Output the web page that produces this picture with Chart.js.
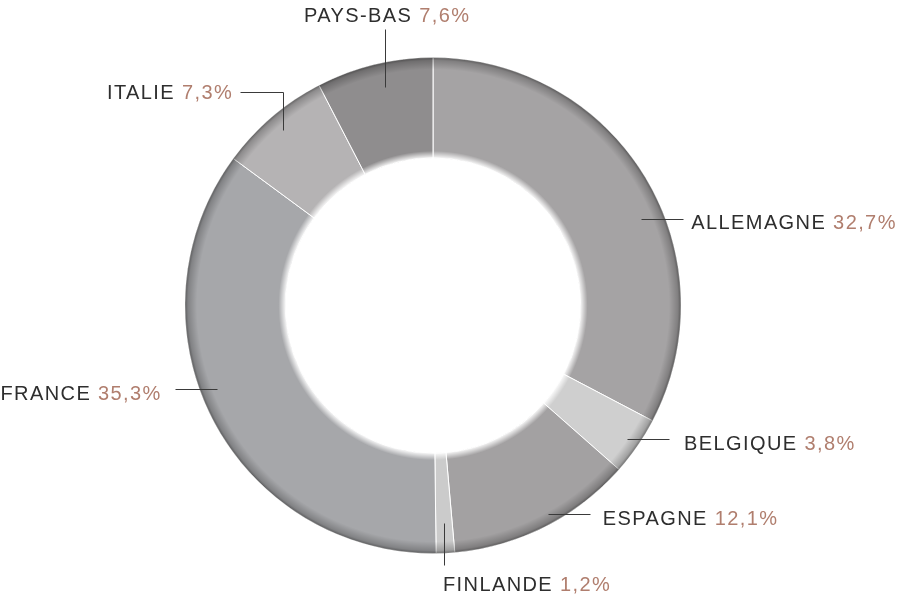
<!DOCTYPE html>
<html>
<head>
<meta charset="utf-8">
<script src="https://cdn.jsdelivr.net/npm/chart.js@4/dist/chart.umd.min.js"></script>
<style>
  html, body { margin: 0; padding: 0; background: #fff; }
  #wrap { width: 897px; height: 598px; }
</style>
</head>
<body>
<div id="wrap"><canvas id="donut"></canvas></div>
<script>
const countries = ['ALLEMAGNE', 'BELGIQUE', 'ESPAGNE', 'FINLANDE', 'FRANCE', 'ITALIE', 'PAYS-BAS'];
const shares = [32.7, 3.8, 12.1, 1.2, 35.3, 7.3, 7.6];
const sliceColors = ['#a5a3a4', '#cfcfcf', '#a3a1a2', '#cbcbcb', '#a6a7aa', '#b5b3b4', '#8f8d8e'];

// leader line look per slice: direction, radius fraction, angle nudge (deg), lengths, text gap
const leaderStyle = [
  { dir: 'right', rf: 0.91, nudge: 8.5, len: 42, gap: 8 },
  { dir: 'right', rf: 0.95, nudge: 0, len: 42, gap: 15 },
  { dir: 'right', rf: 0.96, nudge: -2, len: 42, gap: 13 },
  { dir: 'down', rf: 0.88, nudge: 0, len: 42, gap: 20 },
  { dir: 'left', rf: 0.935, nudge: 6, len: 42, gap: 13 },
  { dir: 'upleft', rf: 0.93, nudge: 0, len: 38, len2: 43, gap: 7 },
  { dir: 'up', rf: 0.9, nudge: 1.3, len: 58, gap: 13 }
];

const FONT = '20px "Liberation Sans", Arial, sans-serif';
const NAME_COLOR = '#2e2e2e';
const VALUE_COLOR = '#b07e6e';

function formatShare(v) {
  return v.toFixed(1).replace('.', ',') + '%';
}

const ringShade = {
  id: 'ringShade',
  afterDatasetsDraw(chart) {
    const arc = chart.getDatasetMeta(0).data[0];
    const { x, y, innerRadius, outerRadius } = arc.getProps(['x', 'y', 'innerRadius', 'outerRadius'], true);
    const ctx = chart.ctx;
    const w = outerRadius - innerRadius;
    const g = ctx.createRadialGradient(x, y, innerRadius, x, y, outerRadius);
    g.addColorStop(0, 'rgba(255,255,255,0.9)');
    g.addColorStop(7 / w, 'rgba(255,255,255,0)');
    g.addColorStop(1 - 12 / w, 'rgba(0,0,0,0)');
    g.addColorStop(1 - 3 / w, 'rgba(0,0,0,0.22)');
    g.addColorStop(1, 'rgba(0,0,0,0.45)');
    ctx.save();
    ctx.beginPath();
    ctx.arc(x, y, outerRadius, 0, Math.PI * 2);
    ctx.arc(x, y, innerRadius, 0, Math.PI * 2, true);
    ctx.fillStyle = g;
    ctx.fill();
    ctx.restore();
  }
};

const leaders = {
  id: 'leaders',
  afterDraw(chart) {
    const ctx = chart.ctx;
    const meta = chart.getDatasetMeta(0);
    ctx.save();
    ctx.font = FONT;
    ctx.letterSpacing = '1.4px';
    ctx.textBaseline = 'middle';
    meta.data.forEach((arc, i) => {
      const p = arc.getProps(['x', 'y', 'startAngle', 'endAngle', 'outerRadius'], true);
      const st = leaderStyle[i];
      const a = (p.startAngle + p.endAngle) / 2 + st.nudge * Math.PI / 180;
      const r = p.outerRadius * st.rf;
      const x0 = p.x + Math.cos(a) * r;
      const y0 = p.y + Math.sin(a) * r;
      const name = shares[i] !== undefined ? countries[i] + ' ' : countries[i];
      const val = formatShare(shares[i]);
      const wName = ctx.measureText(name).width;
      const wVal = ctx.measureText(val).width;
      const total = wName + wVal;

      ctx.strokeStyle = '#3a3a3a';
      ctx.lineWidth = 1;
      ctx.beginPath();
      ctx.moveTo(Math.round(x0) + 0.5, Math.round(y0) + 0.5);
      let tx, ty;
      if (st.dir === 'right') {
        ctx.lineTo(Math.round(x0 + st.len) + 0.5, Math.round(y0) + 0.5);
        tx = x0 + st.len + st.gap; ty = y0 + 5;
      } else if (st.dir === 'left') {
        ctx.lineTo(Math.round(x0 - st.len) + 0.5, Math.round(y0) + 0.5);
        tx = x0 - st.len - st.gap - total; ty = y0 + 5;
      } else if (st.dir === 'down') {
        ctx.lineTo(Math.round(x0) + 0.5, Math.round(y0 + st.len) + 0.5);
        tx = x0 - 1; ty = y0 + st.len + st.gap;
      } else if (st.dir === 'up') {
        ctx.lineTo(Math.round(x0) + 0.5, Math.round(y0 - st.len) + 0.5);
        tx = x0 + 2 - total / 2; ty = y0 - st.len - st.gap;
      } else {
        const yTop = Math.round(y0 - st.len) + 0.5;
        ctx.lineTo(Math.round(x0) + 0.5, yTop);
        ctx.lineTo(Math.round(x0 - st.len2) + 0.5, yTop);
        tx = x0 - st.len2 - st.gap - total; ty = y0 - st.len + 1;
      }
      ctx.stroke();

      ctx.textAlign = 'left';
      ctx.fillStyle = NAME_COLOR;
      ctx.fillText(name, tx, ty);
      ctx.fillStyle = VALUE_COLOR;
      ctx.fillText(val, tx + wName, ty);
    });
    ctx.restore();
  }
};

new Chart(document.getElementById('donut'), {
  type: 'doughnut',
  data: {
    labels: countries,
    datasets: [{
      data: shares,
      backgroundColor: sliceColors,
      borderColor: '#ffffff',
      borderWidth: 1
    }]
  },
  options: {
    responsive: true,
    maintainAspectRatio: false,
    animation: false,
    cutout: '59.5%',
    layout: { padding: { top: 57, bottom: 44, left: 0, right: 31 } },
    plugins: {
      legend: { display: false },
      tooltip: { enabled: false }
    }
  },
  plugins: [ringShade, leaders]
});
</script>
</body>
</html>
